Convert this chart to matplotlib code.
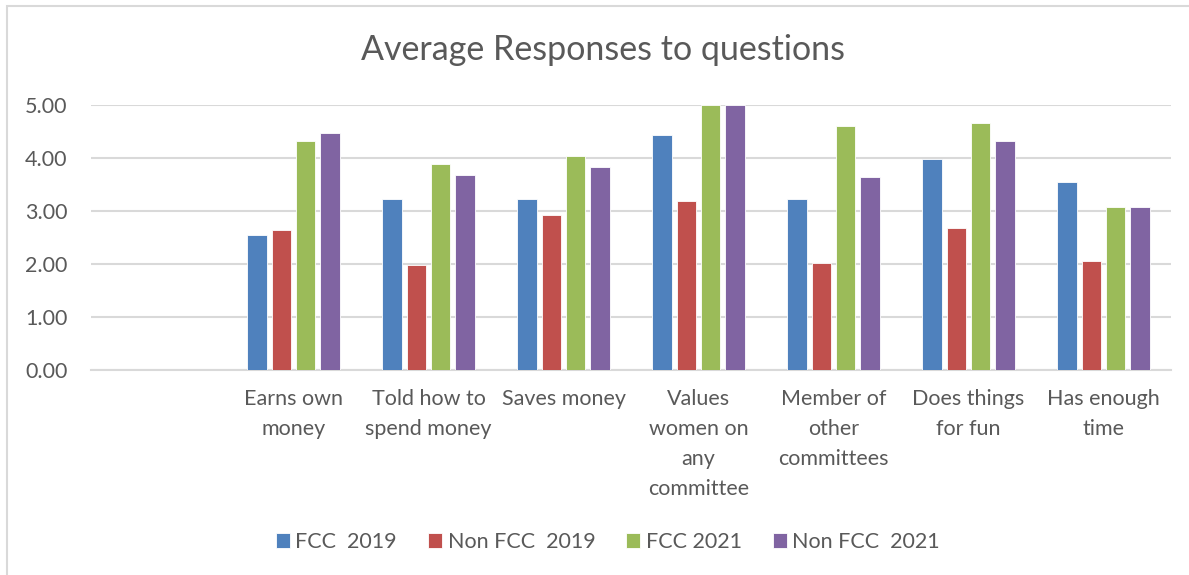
import numpy as np
import matplotlib.pyplot as plt
from matplotlib.patches import Rectangle

# data
categories = ['', 'Earns own\nmoney', 'Told how to\nspend money', 'Saves money',
              'Values\nwomen on\nany\ncommittee', 'Member of\nother\ncommittees',
              'Does things\nfor fun', 'Has enough\ntime']
series_names = ['FCC  2019', 'Non FCC  2019', 'FCC 2021', 'Non FCC  2021']
fcc_2019 = [np.nan, 2.55, 3.22, 3.22, 4.43, 3.22, 3.99, 3.55]
non_fcc_2019 = [np.nan, 2.64, 1.98, 2.93, 3.18, 2.01, 2.68, 2.06]
fcc_2021 = [np.nan, 4.33, 3.89, 4.04, 5.00, 4.61, 4.66, 3.08]
non_fcc_2021 = [np.nan, 4.47, 3.67, 3.83, 5.00, 3.64, 4.33, 3.08]
yticks = [0, 1, 2, 3, 4, 5]

colors = ['#4f81bd', '#c0504d', '#9bbb59', '#8064a2']
txt = '#595959'
grid = '#d9d9d9'

plt.rcParams['font.family'] = ['Lato', 'DejaVu Sans']

W, H = 1189, 575
fig = plt.figure(figsize=(W / 100, H / 100), dpi=100)
ax = fig.add_axes([91 / W, (H - 370) / H, (1171 - 91) / W, 265 / H])

x = np.arange(len(categories))
pitch = 0.18
bw = 0.145
all_series = [fcc_2019, non_fcc_2019, fcc_2021, non_fcc_2021]
for i, (vals, name, c) in enumerate(zip(all_series, series_names, colors)):
    ax.bar(x + (i - 1.5) * pitch, vals, bw, color=c, label=name,
           edgecolor='white', linewidth=0.6, zorder=3)

ax.set_xlim(-0.5, len(categories) - 0.5)
ax.set_ylim(0, 5)
ax.set_yticks(yticks)
ax.set_yticklabels(['%.2f' % v for v in yticks], fontsize=15.5, color=txt)
ax.set_xticks(x)
ax.set_xticklabels(categories, fontsize=15.5, color=txt, linespacing=1.62, va='top')
ax.tick_params(axis='y', length=0, pad=17)
ax.tick_params(axis='x', length=0, pad=14)
ax.yaxis.grid(True, color=grid, linewidth=1.5, zorder=0)
for s in ['top', 'right', 'left']:
    ax.spines[s].set_visible(False)
ax.spines['bottom'].set_color(grid)
ax.spines['bottom'].set_linewidth(1.5)

fig.text(603 / W, 1 - 50 / H, 'Average Responses to questions', ha='center', va='center',
         fontsize=24.5, color=txt)

leg = fig.legend(loc='center', bbox_to_anchor=(608 / W, 1 - 542 / H), ncol=4, frameon=False,
                 fontsize=15.5, handlelength=0.65, handleheight=0.65, handletextpad=0.25,
                 columnspacing=1.45)
for t in leg.get_texts():
    t.set_color(txt)

# chart area border (only top and left visible in the crop)
fig.patches.append(Rectangle((7 / W, -0.1), 1.1, 1 - 6 / H + 0.1, transform=fig.transFigure,
                             fill=False, edgecolor=grid, linewidth=1.5))

fig.savefig('out.png', dpi=100)
